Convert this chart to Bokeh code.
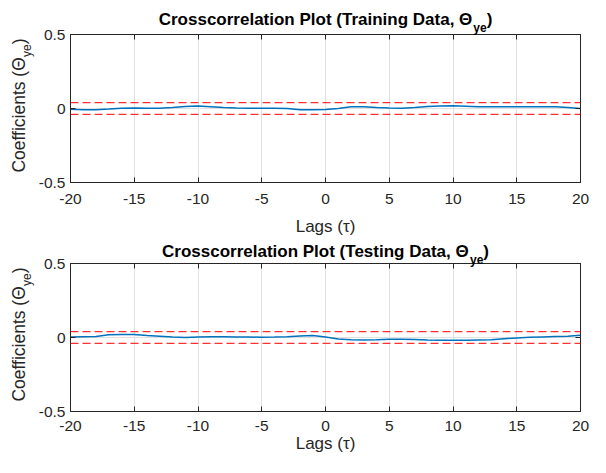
from math import pi
from bokeh.plotting import figure
from bokeh.models import Label, FixedTicker, Span, GridBox, LinearAxis
from bokeh.layouts import column
from bokeh.embed import file_html
from bokeh.resources import INLINE

# ---------------- data ----------------
lags = list(range(-20, 21))
train_coeffs = [-0.005, -0.008, -0.008, -0.004, 0.002, 0.003, 0.002, 0.002, 0.006, 0.014,
                0.017, 0.012, 0.006, 0.003, 0.002, 0.002, 0.002, 0.000, -0.008, -0.008,
                -0.007, 0.000, 0.012, 0.011, 0.006, 0.003, 0.001, 0.006, 0.014, 0.017,
                0.019, 0.016, 0.011, 0.011, 0.012, 0.012, 0.012, 0.012, 0.011, 0.006,
                0.000]
test_coeffs = [0.004, 0.005, 0.006, 0.018, 0.021, 0.020, 0.014, 0.009, 0.004, 0.000,
               0.003, 0.005, 0.005, 0.003, 0.003, 0.002, 0.003, 0.005, 0.010, 0.014,
               0.003, -0.010, -0.016, -0.017, -0.016, -0.012, -0.011, -0.014, -0.017, -0.019,
               -0.019, -0.018, -0.017, -0.016, -0.008, -0.003, 0.001, 0.004, 0.006, 0.008,
               0.015]
conf_bound = 0.04
x_ticks = [-20, -15, -10, -5, 0, 5, 10, 15, 20]
x_tick_labels = ["-20", "-15", "-10", "-5", "0", "5", "10", "15", "20"]
y_ticks = [-0.5, 0, 0.5]
y_tick_labels = ["-0.5", "0", "0.5"]
titles = ["Crosscorrelation Plot (Training Data, \u0398", "Crosscorrelation Plot (Testing Data, \u0398"]
subscript = "ye"
x_label = "Lags (\u03c4)"
y_label = "Coefficients (\u0398"

# ---------------- style / layout ----------------
FONT = "Liberation Sans"
AX = "#262626"
W = 590
FW, FH = 510, 148
BL, BR = 70, 10
TOP1, BOT1 = 34, 56
TOP2, BOT2 = 25, 46
H1, H2 = TOP1 + FH + BOT1, TOP2 + FH + BOT2
HT = H1 + H2
TICK_FS = "15.5px"
XLAB_FS = "17px"

BOLD = {'C': .722, 'r': .389, 'o': .611, 's': .556, 'c': .556, 'e': .556, 'l': .278, 'a': .556,
        't': .333, 'i': .278, 'n': .611, ' ': .278, 'P': .667, '(': .333, ')': .333, 'T': .611,
        'g': .611, 'D': .722, ',': .278, '\u0398': .778, 'y': .556}
REG = {'C': .722, 'o': .556, 'e': .556, 'f': .278, 'i': .222, 'c': .5, 'n': .556, 't': .278,
       's': .5, ' ': .278, '(': .333, '\u0398': .778, ')': .333, 'y': .5}


def tw(s, size, bold=False):
    tab = BOLD if bold else REG
    return sum(tab.get(ch, 0.556) for ch in s) * size


def style_axis(ax, ticks, labels, show_labels=True):
    ax.ticker = FixedTicker(ticks=ticks)
    ax.major_label_overrides = {t: l for t, l in zip(ticks, labels)}
    ax.axis_line_color = AX
    ax.major_tick_line_color = AX
    ax.major_tick_in = 5
    ax.major_tick_out = 0
    ax.minor_tick_line_color = None
    ax.major_label_text_font = FONT
    ax.major_label_text_font_size = TICK_FS if show_labels else "0px"
    ax.major_label_text_color = AX if show_labels else None


def make(series, top, bottom, with_xlabel):
    p = figure(width=W, height=top + FH + bottom, x_range=(-20, 20), y_range=(-0.5, 0.5),
               output_backend="svg", toolbar_location=None,
               min_border_left=BL, min_border_right=BR, min_border_top=top,
               min_border_bottom=bottom)
    p.background_fill_color = "white"
    p.border_fill_color = "white"
    p.outline_line_color = AX
    p.outline_line_width = 1
    xa = p.xaxis[0]          # bottom axis
    ya = p.yaxis[0]          # left axis
    style_axis(xa, x_ticks, x_tick_labels)
    style_axis(ya, y_ticks, y_tick_labels)
    xa.major_label_standoff = 9 if with_xlabel else 11
    ya.major_label_standoff = 5
    if with_xlabel:
        xa.axis_label = x_label
        xa.axis_label_text_font = FONT
        xa.axis_label_text_font_size = XLAB_FS
        xa.axis_label_text_font_style = "normal"
        xa.axis_label_text_color = AX
        xa.axis_label_standoff = 0
    # mirrored inward ticks on the top and right edges (box on)
    top_ax, right_ax = LinearAxis(), LinearAxis()
    style_axis(top_ax, x_ticks, x_tick_labels, False)
    style_axis(right_ax, y_ticks, y_tick_labels, False)
    top_ax.major_label_standoff = 0
    right_ax.major_label_standoff = 0
    p.add_layout(top_ax, "above")
    p.add_layout(right_ax, "right")
    p.xgrid.ticker = FixedTicker(ticks=x_ticks)
    p.ygrid.ticker = FixedTicker(ticks=y_ticks)
    p.grid.grid_line_color = "#e0e0e0"
    p.grid.grid_line_width = 1

    for loc in (conf_bound, -conf_bound):
        p.add_layout(Span(location=loc, dimension="width", line_color="#ff3030",
                          line_width=1.3, line_dash="8 4"))
    p.line(lags, series, line_color="#0072BD", line_width=1.5)
    return p


p1 = make(train_coeffs, TOP1, BOT1, False)
p2 = make(test_coeffs, TOP2, BOT2, True)

# transparent overlay (frame = whole canvas) carrying titles and axis labels with subscripts
pt = figure(width=W, height=HT, x_range=(0, 1), y_range=(0, 1),
            x_axis_location=None, y_axis_location=None, min_border=0,
            output_backend="svg", toolbar_location=None)
pt.background_fill_alpha = 0
pt.border_fill_alpha = 0
pt.outline_line_color = None
pt.grid.visible = False

# frame positions in overlay pixels (origin = bottom-left of the page content)
F2_BOT = BOT2
F2_TOP = F2_BOT + FH
F1_BOT = F2_TOP + TOP2 + BOT1
F1_TOP = F1_BOT + FH
FL = BL

SUB_DROP = 8


def add_texts(frame_top, frame_bot, title, title_gap, xlab_gap):
    # title
    ts, ss = 17, 12
    mw, sw = tw(title, ts, True), tw(subscript, ss, True)
    pw = tw(")", ts, True)
    x0 = FL + FW / 2 - (mw + sw + pw) / 2
    ty = frame_top + title_gap
    common = dict(x_units="screen", y_units="screen", text_font=FONT, text_font_style="bold",
                  text_color="black", text_baseline="alphabetic", text_align="left")
    pt.add_layout(Label(x=x0, y=ty, text=title, text_font_size=f"{ts}px", **common))
    pt.add_layout(Label(x=x0 + mw, y=ty - SUB_DROP, text=subscript, text_font_size=f"{ss}px", **common))
    pt.add_layout(Label(x=x0 + mw + sw, y=ty, text=")", text_font_size=f"{ts}px", **common))
    # x label (only where the axis itself does not carry it)
    if xlab_gap is not None:
        pt.add_layout(Label(x=FL + FW / 2, y=frame_bot - xlab_gap, text=x_label, x_units="screen",
                            y_units="screen", text_font=FONT, text_font_size=XLAB_FS, text_color=AX,
                            text_baseline="alphabetic", text_align="center"))
    # rotated y label
    ls, lss = 17.5, 12
    mw, sw, pw = tw(y_label, ls), tw(subscript, lss), tw(")", ls)
    y0 = (frame_top + frame_bot) / 2 + 3 - (mw + sw + pw) / 2
    bx = FL - 51.5
    common = dict(x_units="screen", y_units="screen", text_font=FONT, text_color=AX,
                  text_baseline="alphabetic", text_align="left", angle=pi / 2)
    pt.add_layout(Label(x=bx, y=y0, text=y_label, text_font_size=f"{ls}px", **common))
    pt.add_layout(Label(x=bx + SUB_DROP, y=y0 + mw, text=subscript, text_font_size=f"{lss}px", **common))
    pt.add_layout(Label(x=bx, y=y0 + mw + sw, text=")", text_font_size=f"{ls}px", **common))


add_texts(F1_TOP, F1_BOT, titles[0], 15, 44)
add_texts(F2_TOP, F2_BOT, titles[1], 12, None)

page = GridBox(children=[(column(p1, p2, spacing=0), 0, 0), (pt, 0, 0)], spacing=0)

open("out.html", "w").write(file_html(page, INLINE))
